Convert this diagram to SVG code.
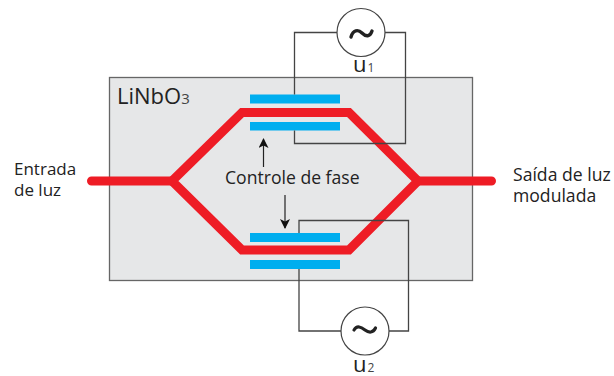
<svg xmlns="http://www.w3.org/2000/svg" width="614" height="376" viewBox="0 0 614 376">
<style>
text{font-family:"Open Sans","Noto Sans","Liberation Sans",sans-serif;fill:#222;font-size:17.600px}
.sub{fill:#444}
.wire{fill:none;stroke:#444;stroke-width:1.3}
.guide{fill:none;stroke:#ee1c25;stroke-width:9;stroke-linejoin:miter}
.el{fill:#00aeef}
.src{fill:#fff;stroke:#444;stroke-width:1.2}
.sym{fill:none;stroke:#222;stroke-linecap:round}
.arr{stroke:#222;stroke-width:1.2;fill:none}
.u{font-size:22px}
.s{font-size:12px}
</style>
<defs><marker id="ah" markerUnits="userSpaceOnUse" markerWidth="10" markerHeight="12" refX="9" refY="5" orient="auto"><path d="M0 0L10 5L0 10L2.500 5Z" fill="#111"/></marker></defs>
<g id="substrate"><rect x="109.500" y="77.500" width="363" height="203" fill="#e6e7e8" stroke="#666" stroke-width="1.300"/><text x="117" y="104" style="font-size:22px">LiNbO<tspan class="sub" style="font-size:15px">3</tspan></text></g>
<g id="waveguide"><path class="guide" d="M172 181L242 112.500H349L418 181L349 250H242Z"/><path class="guide" d="M91.500 181H172M418 181H491.500" stroke-linecap="round"/></g>
<g id="electrodes"><rect class="el" x="250" y="94.500" width="90" height="9"/><rect class="el" x="250" y="122" width="90" height="8.500"/><rect class="el" x="250" y="233" width="90" height="9"/><rect class="el" x="250" y="260" width="90" height="9"/></g>
<g id="connectors">
<path class="wire" d="M294.500 94.500V32.500H337M385 32.500H405.500V143.500H294.500V130.500"/>
<path class="wire" d="M299 233V220.500H408.500V331H389M341 331H299V269"/>
<path class="arr" marker-end="url(#ah)" d="M263.500 167V139"/>
<path class="arr" marker-end="url(#ah)" d="M285 195V228"/>
</g>
<g id="source-u1"><circle class="src" cx="361" cy="32.500" r="24"/><path class="sym" stroke-width="3.400" d="M351 37C353 30 358 29 362 33C366 37 370 37 372 31"/><text x="353" y="72" class="u">u<tspan class="sub s" dx="1">1</tspan></text></g>
<g id="source-u2"><circle class="src" cx="365" cy="331" r="24"/><path class="sym" stroke-width="3.200" d="M354 330C357 325 361 327 365 330C369 333 373 333 375.500 328"/><text x="353" y="371.500" class="u">u<tspan class="sub s" dx="1">2</tspan></text></g>
<g id="label-in"><text x="14" y="175" style="font-size:17px">Entrada</text><text x="14" y="195.500" style="font-size:17px">de luz</text></g>
<g id="label-out"><text x="513" y="181">Saída de luz</text><text x="513" y="202">modulada</text></g>
<g id="label-fase"><text x="225" y="184">Controle de fase</text></g>
</svg>
